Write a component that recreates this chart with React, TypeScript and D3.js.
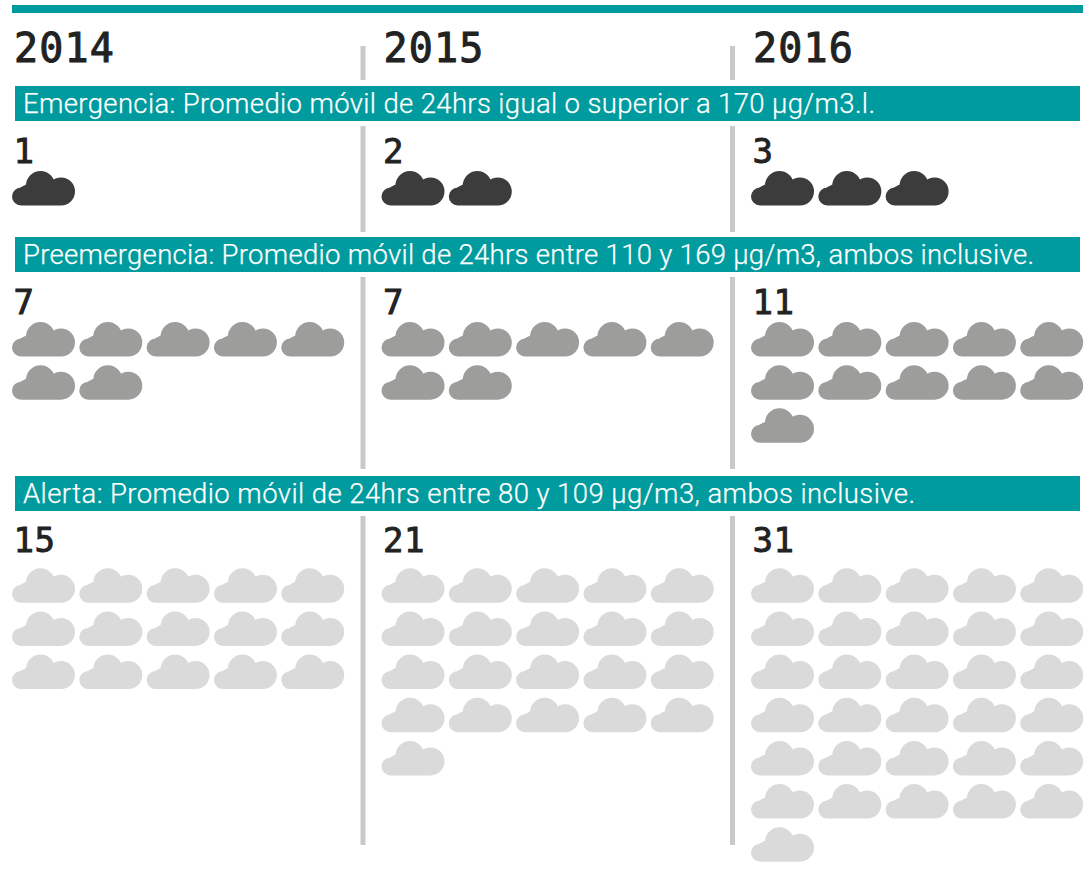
import React from "react";
import * as d3 from "d3";

const years = ["2014", "2015", "2016"];
const levels = [
  "Emergencia: Promedio móvil de 24hrs igual o superior a 170 µg/m3.l.",
  "Preemergencia: Promedio móvil de 24hrs entre 110 y 169 µg/m3, ambos inclusive.",
  "Alerta: Promedio móvil de 24hrs entre 80 y 109 µg/m3, ambos inclusive.",
];
const emergencia = [1, 2, 3];
const preemergencia = [7, 7, 11];
const alerta = [15, 21, 31];
const series = [emergencia, preemergencia, alerta];
const colors = ["#3c3c3c", "#9d9d9c", "#dadada"];

const bandTop = [86, 237, 476];
const bandTextWidth = [852, 1011, 892];
const cloudTop = [171, 322, 568.3];
const countBase = [163, 314, 552];
const dividerSpans = [[46, 80], [126, 232], [277, 469], [516, 845]];

const x = d3.scaleLinear().domain([0, 1]).range([12, 381.5]);
const cellX = d3.scaleLinear().domain([0, 1]).range([0, 67.3]);
const cellY = d3.scaleLinear().domain([0, 1]).range([0, 43.15]);

const cloud = (() => {
  const p = d3.path();
  const lobes = [
    [9, 25.5, 9],
    [28.5, 14.5, 14.5],
    [49, 20.5, 14],
  ];
  lobes.forEach(([cx, cy, r]) => {
    p.moveTo(cx + r, cy);
    p.arc(cx, cy, r, 0, Math.PI * 2);
    p.closePath();
  });
  p.moveTo(9, 18);
  p.lineTo(49, 18);
  p.lineTo(49, 34.5);
  p.lineTo(9, 34.5);
  p.closePath();
  p.moveTo(3.5, 19);
  p.lineTo(15, 13);
  p.lineTo(15, 20);
  p.closePath();
  return p.toString();
})();

const textFont = "Roboto, sans-serif";
const numFont = "'DejaVu Sans Mono', monospace";

export default function App() {
  return (
    <svg width={1091} height={884} style={{ position: "absolute", left: 0, top: 0 }}>
      <rect x={12} y={5} width={1071} height={8} fill="#009b9e" />
      {[1, 2].map((c) =>
        dividerSpans.map(([a, b]) => (
          <rect key={c + "-" + a} x={x(c) - 21} y={a} width={5} height={b - a} fill="#c9c9c9" />
        ))
      )}
      {years.map((y, c) => (
        <text key={y} x={x(c) + 2} y={62} fontFamily={numFont} fontWeight={400} fontSize={40} letterSpacing={1.2} stroke="#222" strokeWidth={1} fill="#222">
          {y}
        </text>
      ))}
      {levels.map((t, i) => (
        <g key={t}>
          <rect x={15} y={bandTop[i]} width={1065} height={35} fill="#009b9e" />
          <text
            x={23}
            y={bandTop[i] + 27}
            fontFamily={textFont}
            fontWeight={300}
            fontSize={27.5}
            textLength={bandTextWidth[i]}
            lengthAdjust="spacing"
            stroke="#fff"
            strokeWidth={0.25}
            fill="#fff"
          >
            {t}
          </text>
        </g>
      ))}
      {series.map((vals, i) =>
        vals.map((v, c) => (
          <g key={i + "-" + c}>
            <text x={x(c) + 1.5} y={countBase[i]} fontFamily={numFont} fontWeight={400} fontSize={34} letterSpacing={0.5} stroke="#222" strokeWidth={0.9} fill="#222">
              {v}
            </text>
            {d3.range(v).map((k) => (
              <path
                key={k}
                d={cloud}
                fill={colors[i]}
                transform={`translate(${x(c) + cellX(k % 5)},${cloudTop[i] + cellY(Math.floor(k / 5))})`}
              />
            ))}
          </g>
        ))
      )}
    </svg>
  );
}
